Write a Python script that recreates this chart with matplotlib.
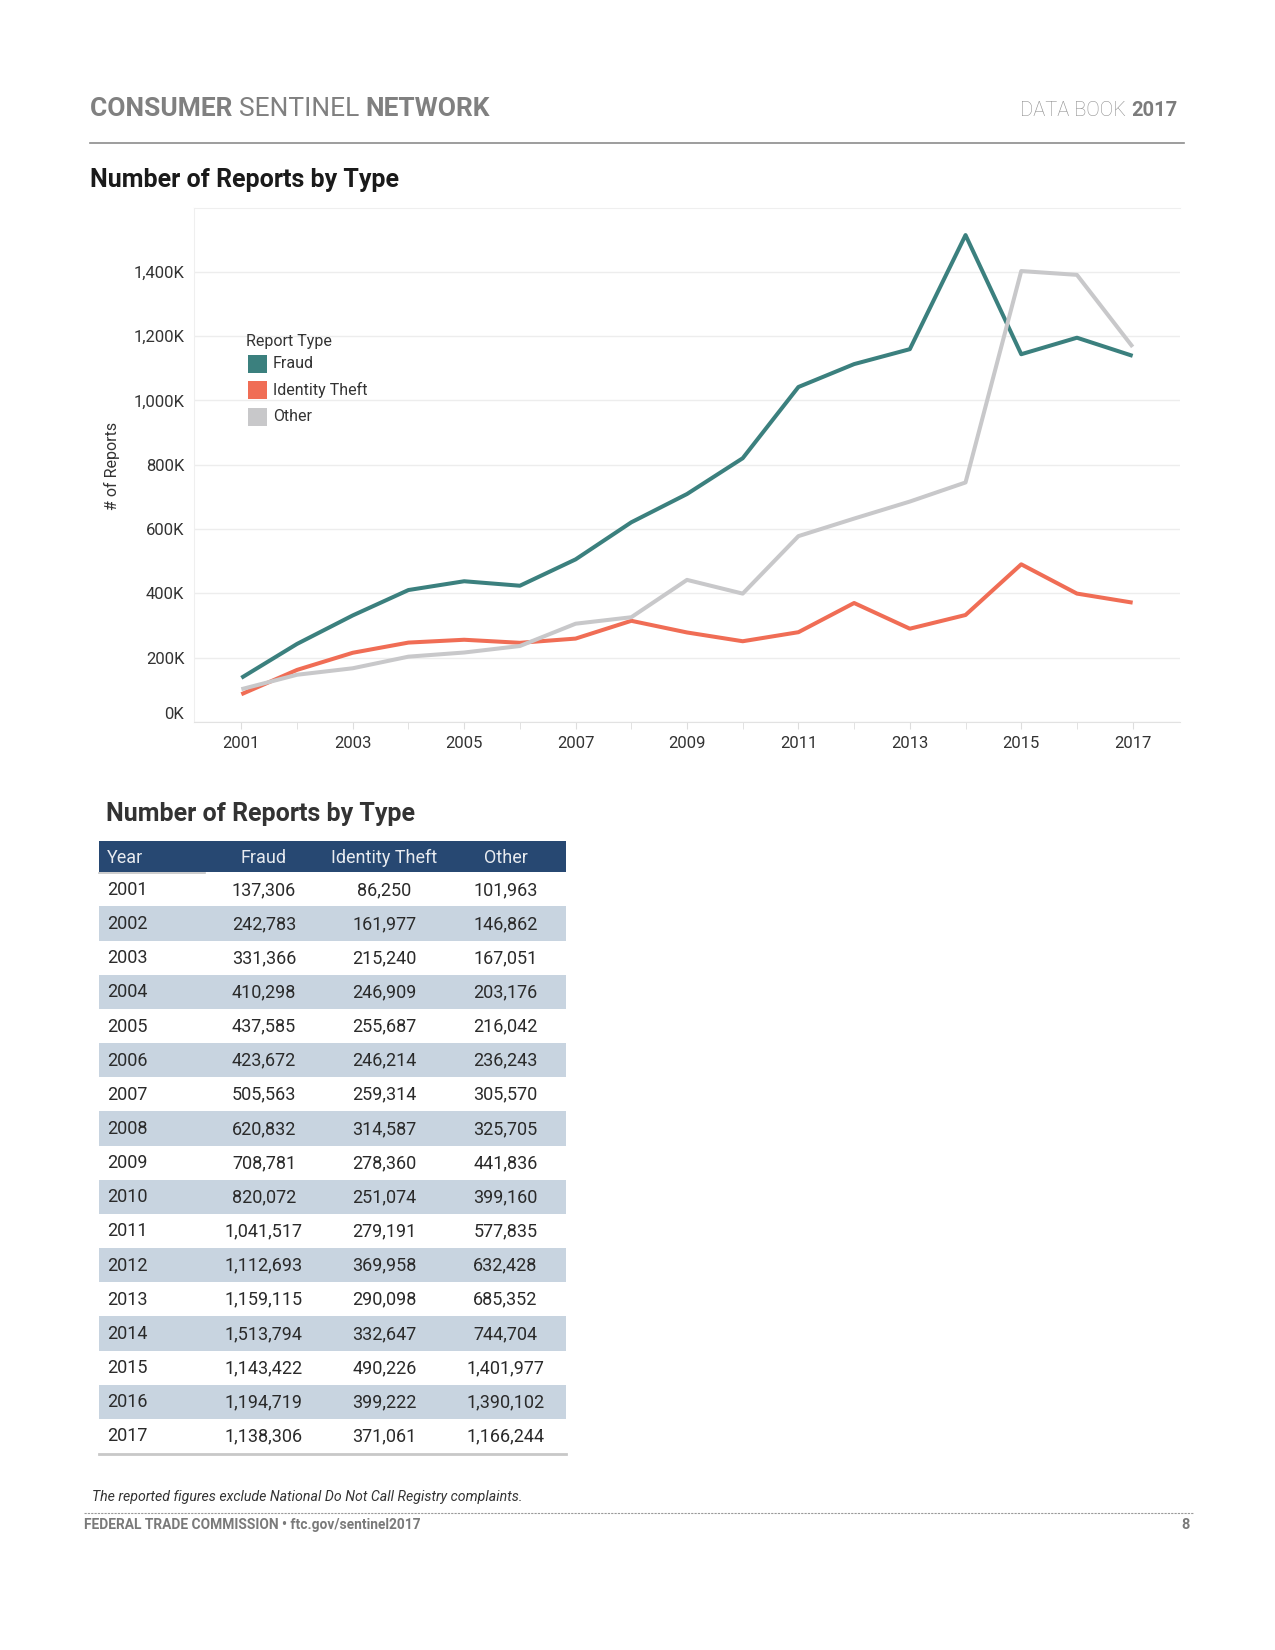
import matplotlib
matplotlib.use("Agg")
import matplotlib.pyplot as plt
from matplotlib.patches import Rectangle
from matplotlib.ticker import FuncFormatter, MultipleLocator

years = list(range(2001, 2018))
fraud = [137306, 242783, 331366, 410298, 437585, 423672, 505563, 620832, 708781,
         820072, 1041517, 1112693, 1159115, 1513794, 1143422, 1194719, 1138306]
identity_theft = [86250, 161977, 215240, 246909, 255687, 246214, 259314, 314587, 278360,
                  251074, 279191, 369958, 290098, 332647, 490226, 399222, 371061]
other = [101963, 146862, 167051, 203176, 216042, 236243, 305570, 325705, 441836,
         399160, 577835, 632428, 685352, 744704, 1401977, 1390102, 1166244]

series_names = ["Fraud", "Identity Theft", "Other"]
series_colors = ["#3b807e", "#f06d55", "#c8c8ca"]
series_values = [fraud, identity_theft, other]

table_columns = ["Year", "Fraud", "Identity Theft", "Other"]

W, H = 1275, 1650
plt.rcParams['font.family'] = ['Roboto', 'DejaVu Sans']

fig = plt.figure(figsize=(W / 100, H / 100), dpi=100)

# overlay axes in pixel coordinates for page furniture
page = fig.add_axes([0, 0, 1, 1])
page.set_xlim(0, W)
page.set_ylim(H, 0)
page.axis('off')

renderer = fig.canvas.get_renderer()


def text_run(x, y, parts, size, colors, ha='left'):
    # parts: list of (string, weight); draw consecutive runs
    if ha == 'right':
        parts = parts[::-1]
        colors = colors[::-1]
    for (s, weight), c in zip(parts, colors):
        t = page.text(x, y, s, fontsize=size, fontweight=weight, color=c,
                      ha=ha, va='baseline')
        bb = t.get_window_extent(renderer=renderer)
        if ha == 'left':
            x += bb.width
        else:
            x -= bb.width


# header
text_run(90, 115.5, [("CONSUMER ", 'bold'), ("SENTINEL ", 'normal'), ("NETWORK", 'bold')],
         19, ['#808080'] * 3)
text_run(1177, 116, [("DATA BOOK ", 'light'), ("2017", 'bold')], 14.5,
         ['#8c8c8c', '#7c7c7c'], ha='right')
page.plot([90, 1184], [142.5, 142.5], color='#8c8c8c', lw=1.2)

page.text(90, 186.5, "Number of Reports by Type", fontsize=18, fontweight='bold',
          color='#1a1a1a', va='baseline')

# chart
ax = fig.add_axes([194 / W, 1 - 722 / H, (1180 - 194) / W, (722 - 208) / H])
ax.set_facecolor('none')
for name, color, vals in zip(series_names, series_colors, series_values):
    ax.plot(years, vals, color=color, lw=2.9, solid_capstyle='butt', label=name)

ax.set_xlim(2000.15, 2017.85)
ax.set_ylim(0, 1598000)
ax.yaxis.set_major_locator(MultipleLocator(200000))
ax.yaxis.set_major_formatter(FuncFormatter(lambda v, p: "{:,}K".format(int(round(v / 1000)))))
ax.xaxis.set_major_locator(MultipleLocator(2, offset=1))
ax.xaxis.set_minor_locator(MultipleLocator(1))
ax.grid(axis='y', color='#ededed', lw=1)
ax.set_axisbelow(True)
ax.spines['right'].set_visible(False)
ax.spines['top'].set_color('#efefef')
ax.spines['left'].set_color('#efefef')
ax.spines['bottom'].set_color('#e2e2e2')
ax.tick_params(axis='y', length=0, pad=7, labelsize=12, labelcolor='#333333')
ax.tick_params(axis='x', which='both', length=5, color='#dddddd', pad=5,
               labelsize=12, labelcolor='#333333')
ax.tick_params(axis='x', which='minor', labelbottom=False)
fig.canvas.draw()
for lab in ax.get_yticklabels():
    if lab.get_text() == "0K":
        lab.set_va('bottom')

page.text(112, 466, "# of Reports", rotation=90, fontsize=11.5, color='#333333',
          ha='center', va='center')

# legend (drawn in the chart axes, positioned in page pixels)
ax.text(245.5, 341.5, "Report Type", fontsize=11.5, color='#333333', va='center',
        transform=page.transData, zorder=5)
for i, (name, color) in enumerate(zip(series_names, series_colors)):
    yc = 363.5 + i * 26.7
    ax.add_patch(Rectangle((248, yc - 9), 19, 18, color=color, lw=0,
                           transform=page.transData, zorder=5))
    ax.text(273, yc, name, fontsize=11.5, color='#333333', va='center',
            transform=page.transData, zorder=5)

# table
page.text(105.5, 821.5, "Number of Reports by Type", fontsize=18, fontweight='bold',
          color='#333333', va='baseline')
tab_left, tab_right = 99, 566
head_top, head_bot = 841, 872.3
row_h = 34.16
col_x = [107, 264, 384.5, 505.5]
col_ha = ['left', 'center', 'center', 'center']

page.add_patch(Rectangle((tab_left, head_top), tab_right - tab_left, head_bot - head_top,
                         color='#274872', lw=0))
for x, ha, name in zip(col_x, col_ha, table_columns):
    page.text(x, (head_top + head_bot) / 2 + 1, name, fontsize=13, color='#e8ebf0',
              ha=ha, va='center')
page.plot([tab_left, 205], [head_bot + 0.5, head_bot + 0.5], color='#c4c4c4', lw=1.2)

for i, yr in enumerate(years):
    top = head_bot + i * row_h
    if i % 2 == 1:
        page.add_patch(Rectangle((tab_left, top), tab_right - tab_left, row_h,
                                 color='#c8d4e0', lw=0))
    cells = [str(yr), "{:,}".format(fraud[i]), "{:,}".format(identity_theft[i]),
             "{:,}".format(other[i])]
    for x, ha, s in zip(col_x, col_ha, cells):
        page.text(x, top + row_h / 2 + 0.5, s, fontsize=13, color='#2a2a2a', ha=ha,
                  va='center')

tab_bottom = head_bot + len(years) * row_h
page.plot([tab_left, tab_right], [tab_bottom + 1, tab_bottom + 1], color='#c8c8c8', lw=2)

# footnote and footer
narrow = ['Liberation Sans Narrow', 'Roboto', 'DejaVu Sans']
page.text(92, 1497, "The reported figures exclude National Do Not Call Registry complaints.",
          fontsize=10.2, style='italic', color='#333333', va='center', family=narrow)
page.plot([84, 1193], [1512.5, 1512.5], color='#9a9a9a', lw=0.8, ls=(0, (2, 1)))
page.text(84, 1525, "FEDERAL TRADE COMMISSION \u2022 ftc.gov/sentinel2017", fontsize=9.9,
          fontweight='bold', color='#7a7a7a', va='center', family=narrow)
page.text(1190, 1525, "8", fontsize=10.5, fontweight='bold', color='#7a7a7a', va='center',
          ha='right', family=narrow)

fig.savefig("out.png", dpi=100)
